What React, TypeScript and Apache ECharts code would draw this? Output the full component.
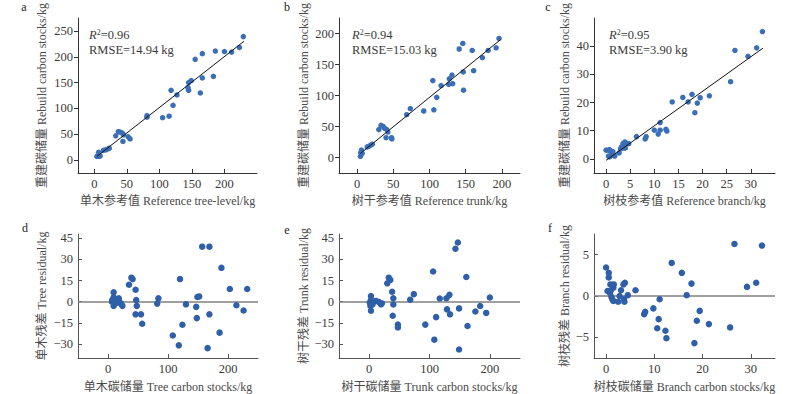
import React, { useEffect, useRef } from "react";
import * as echarts from "echarts";

// ---- Data ----
const treeRef = [4, 6.6, 7.6, 9, 14, 18, 22, 23, 33, 37, 40, 43, 44, 45, 52, 55, 81, 81, 105, 115, 118, 121, 127, 144, 145, 145, 149, 155, 163, 166, 166, 183, 186, 200, 211, 223, 229];
const treeRebuild = [7, 15, 7, 8, 19, 20, 22, 23, 47, 55, 54, 52, 36, 49, 45, 41, 83, 86, 82, 85, 135, 106, 126, 140, 150, 135, 154, 195, 130, 206, 159, 162, 211, 210, 209, 218, 239];
const treeFitX = [4, 230];
const treeFitY = [7, 230];

const trunkRef = [4.6, 5, 6, 7, 14, 16, 19, 21, 30, 33, 36, 38, 40, 41, 42.5, 47.5, 48, 68.5, 73.5, 92, 104.6, 106, 110, 116, 126.5, 127.4, 131, 132, 141, 146, 147, 146.6, 159, 161, 173, 181, 192, 196];
const trunkRebuild = [2, 7.5, 12, 6.5, 17, 18, 20, 21.5, 45, 52, 50, 47, 32, 45, 41, 32, 30, 69, 79, 75, 124, 77, 97, 116, 118, 127, 133, 119, 175, 184, 108.6, 138, 172.6, 140, 161, 172.6, 177, 192];
const trunkFitX = [4.6, 198];
const trunkFitY = [6.5, 190];

const branchRef = [0, 0.4, 0.7, 0.9, 0.5, 0.7, 1, 1.2, 1.4, 1.6, 1.8, 2.7, 3, 3.2, 3.5, 3.7, 3.9, 4, 4.3, 4.7, 6.3, 8.1, 8.3, 10, 10.8, 11.2, 11.2, 12.4, 12.6, 13.7, 15.9, 17, 17.8, 18.4, 18.9, 19.5, 21.4, 25.8, 26.7, 29.4, 31.2, 32.4];
const branchRebuild = [3.1, 3.1, 3.3, 2.9, 1, 0.7, 1.2, 2.1, 2.6, 1.5, 1, 2.1, 3.6, 4.3, 5.4, 3.8, 6, 3.9, 5.5, 5.4, 7.9, 7.1, 7.9, 10.2, 8.8, 10.2, 12.9, 10.5, 9.9, 20.2, 21.8, 20.2, 22.9, 16.4, 19.8, 21.7, 22.4, 27.4, 38.5, 36.4, 39.4, 45.2];
const branchFitX = [0, 32.5];
const branchFitY = [-0.5, 39.3];

const treeStock = [6.6, 7, 9.4, 9.4, 10.5, 9.4, 14, 15, 18, 19, 22, 24, 35, 39, 41, 46, 47, 48, 46, 55, 57, 82, 84, 108, 118, 120, 124, 130, 147, 148, 149, 152, 157, 166, 169, 169, 186, 189, 203, 214, 226, 232];
const treeResidual = [0, 1.2, 6.6, 3, -1.6, -3, 1.6, -0.7, 2.3, 0, -1.6, -3, 12, 17, 16, 8.4, 1.2, -3, -9, -9, -15.7, -1.4, 2.3, -24, -31, 16, -16.4, -1.9, -3.7, -11.7, 3.3, 3.7, 39, -33, 39, -9, -22, 24, 9, -2.6, -6.3, 9];

const trunkStock = [3, 3, 1, 2, 3, 5.6, 11, 15.7, 19.6, 21, 30, 32.5, 35, 38, 40, 40, 39, 47.6, 47.6, 68, 74, 93, 106, 108, 111, 117, 128, 129, 133, 134, 143, 147, 149, 149, 161, 163, 176, 184, 194, 200];
const trunkResidual = [4, 1.2, -0.7, -3, -6.5, -1.9, 0.5, -0.2, -1.9, -1.2, 13, 17, 15.4, 7, 2.4, -2, -10, -16.3, -18.3, 1.4, 5.3, -16.3, 21.4, -27, -11, 2.2, 2.4, -5.5, 4.8, -9, 37.5, 42, -4.8, -34, 17.5, -17.3, -7, -3.1, -8, 2.9];

const branchStock = [0, 0.56, 0.56, 0.3, 0.9, 1.3, 1.5, 1.6, 1, 0.8, 1.1, 1.3, 1.5, 2.5, 2.8, 3.1, 3.6, 3.9, 3.7, 3.8, 4.5, 6.1, 7.9, 8.1, 9.8, 10.6, 10.9, 11.1, 12.3, 12.5, 13.6, 15.7, 16.7, 17.7, 18.3, 18.8, 19.4, 21.3, 25.7, 26.6, 29.2, 31.1, 32.3];
const branchResidual = [3.45, 2.8, 2.25, 0.6, 1.4, 1.3, 1, 1.4, 0.7, 0.4, -0.1, -0.4, -0.6, -0.7, 0, 0.7, 1.4, 1.6, -0.4, -0.7, 0.1, 0.7, -2.2, -1.9, -1.5, -3.9, -2.8, -0.4, -4.2, -5.1, 4, 2.8, 0.1, 1.5, -5.7, -3, -1.8, -3.4, -3.8, 6.3, 1.1, 1.6, 6.1];

// tick labels
const treeTicksX = [0, 50, 100, 150, 200];
const treeTicksY = [0, 50, 100, 150, 200, 250];
const trunkTicksX = [0, 50, 100, 150, 200];
const trunkTicksY = [0, 50, 100, 150, 200];
const branchTicksX = [0, 5, 10, 15, 20, 25, 30];
const branchTicksY = [0, 10, 20, 30, 40];
const residTicksX = [0, 100, 200];
const residTicksY = [-30, -15, 0, 15, 30, 45];
const branchResTicksX = [0, 10, 20, 30];
const branchResTicksY = [-5, 0, 5];

const fitStats = [
  { r2: "0.96", rmse: "14.94 kg" },
  { r2: "0.94", rmse: "15.03 kg" },
  { r2: "0.95", rmse: "3.90 kg" },
];
const panelLetters = ["a", "b", "c", "d", "e", "f"];

const FONT = "'Liberation Serif', 'Noto Sans CJK SC', serif";
const TEXT = "#3a3a3a";
const NAME = "#4a4a4a";

const zip = (xs: number[], ys: number[]) => xs.map((x, i) => [x, ys[i]]);
const fmt = (v: number) => (v < 0 ? "\u2212" + Math.abs(v) : String(v));

function makeAxis(
  gi: number,
  min: number,
  max: number,
  ticks: number[],
  name: string,
  nameGap: number,
  tickInside: boolean,
  lineColor: string
) {
  return {
    type: "value",
    gridIndex: gi,
    min,
    max,
    name,
    nameLocation: "middle",
    nameGap,
    nameTextStyle: { color: NAME, fontSize: 12, fontFamily: FONT },
    axisLine: { show: true, onZero: false, lineStyle: { color: lineColor, width: 1 } },
    axisTick: { show: true, inside: tickInside, length: 4, customValues: ticks, lineStyle: { color: lineColor } },
    axisLabel: { customValues: ticks, formatter: fmt, color: TEXT, fontSize: 12.5, fontFamily: FONT, margin: 5 },
    splitLine: { show: false },
  };
}

export default function App() {
  const ref = useRef<HTMLDivElement>(null);
  useEffect(() => {
    if (!ref.current) return;
    const chart = echarts.init(ref.current, null, { renderer: "svg" });

    const grids = [
      { left: 78, top: 18, width: 179, height: 155 },
      { left: 339, top: 18, width: 181, height: 155 },
      { left: 594, top: 18, width: 181, height: 155 },
      { left: 78, top: 234, width: 180, height: 124 },
      { left: 339, top: 234, width: 181, height: 124 },
      { left: 594, top: 234, width: 181, height: 124 },
    ];

    const topLine = "#333333";
    const botLine = "#555555";
    const xAxes = [
      makeAxis(0, -25, 250, treeTicksX, "单木参考值 Reference tree-level/kg", 22, true, topLine),
      makeAxis(1, -25, 225, trunkTicksX, "树干参考值 Reference trunk/kg", 22, true, topLine),
      makeAxis(2, -2.5, 35, branchTicksX, "树枝参考值 Reference branch/kg", 22, true, topLine),
      makeAxis(3, -50, 250, residTicksX, "单木碳储量 Tree carbon stocks/kg", 23, true, botLine),
      makeAxis(4, -50, 250, residTicksX, "树干碳储量 Trunk carbon stocks/kg", 23, true, botLine),
      makeAxis(5, -2.5, 35, branchResTicksX, "树枝碳储量 Branch carbon stocks/kg", 23, true, botLine),
    ];
    const yAxes = [
      makeAxis(0, -25, 275, treeTicksY, "重建碳储量 Rebuild carbon stocks/kg", 30, false, topLine),
      makeAxis(1, -25, 225, trunkTicksY, "重建碳储量 Rebuild carbon stocks/kg", 29, false, topLine),
      makeAxis(2, -5, 50, branchTicksY, "重建碳储量 Rebuild carbon stocks/kg", 23, false, topLine),
      makeAxis(3, -40, 48, residTicksY, "单木残差 Tree residual/kg", 30, true, botLine),
      makeAxis(4, -40, 48, residTicksY, "树干残差 Trunk residual/kg", 29, true, botLine),
      makeAxis(5, -7.5, 7.5, branchResTicksY, "树枝残差 Branch residual/kg", 23, true, botLine),
    ];

    const topColor = "#3a6fb7";
    const botColor = "#2e5fa8";
    const scatter = (i: number, data: number[][], color: string, size: number, zeroLine: boolean) => ({
      type: "scatter",
      xAxisIndex: i,
      yAxisIndex: i,
      data,
      symbolSize: size,
      itemStyle: { color, opacity: 1 },
      z: 3,
      markLine: zeroLine
        ? {
            silent: true,
            symbol: "none",
            label: { show: false },
            lineStyle: { color: "#808080", width: 1.5, type: "solid" },
            data: [{ yAxis: 0 }],
            z: 1,
          }
        : undefined,
    });
    const fitLine = (i: number, data: number[][]) => ({
      type: "line",
      xAxisIndex: i,
      yAxisIndex: i,
      data,
      symbol: "none",
      lineStyle: { color: "#111111", width: 1 },
      z: 4,
    });

    const series = [
      scatter(0, zip(treeRef, treeRebuild), topColor, 5.5, false),
      fitLine(0, zip(treeFitX, treeFitY)),
      scatter(1, zip(trunkRef, trunkRebuild), topColor, 5.5, false),
      fitLine(1, zip(trunkFitX, trunkFitY)),
      scatter(2, zip(branchRef, branchRebuild), topColor, 5.5, false),
      fitLine(2, zip(branchFitX, branchFitY)),
      scatter(3, zip(treeStock, treeResidual), botColor, 6.5, true),
      scatter(4, zip(trunkStock, trunkResidual), botColor, 6.5, true),
      scatter(5, zip(branchStock, branchResidual), botColor, 6.5, true),
    ];

    const statX = [89, 352, 609];
    const graphic: any[] = [];
    fitStats.forEach((s, i) => {
      graphic.push({
        type: "text",
        x: statX[i],
        y: 35,
        style: {
          text: "{i|R}{s|2}{n|=" + s.r2 + "}",
          verticalAlign: "middle",
          fill: TEXT,
          rich: {
            i: { fontStyle: "italic", fontSize: 12.5, fontFamily: FONT, fill: TEXT },
            s: { fontSize: 8, fontFamily: FONT, verticalAlign: "top", fill: TEXT, padding: [0, 0, 5, 0] },
            n: { fontSize: 12.5, fontFamily: FONT, fill: TEXT },
          },
        },
      });
      graphic.push({
        type: "text",
        x: statX[i],
        y: 50,
        style: {
          text: "RMSE=" + s.rmse,
          verticalAlign: "middle",
          fill: TEXT,
          font: "12.5px " + FONT,
        },
      });
    });
    const letterPos = [
      [24, 7],
      [287, 7],
      [548, 7],
      [25, 228],
      [287, 230],
      [550, 228],
    ];
    panelLetters.forEach((l, i) => {
      graphic.push({
        type: "text",
        x: letterPos[i][0],
        y: letterPos[i][1],
        style: { text: l, align: "center", verticalAlign: "middle", fill: "#222", font: "12px " + FONT },
      });
    });

    chart.setOption({
      animation: false,
      backgroundColor: "#ffffff",
      grid: grids,
      xAxis: xAxes,
      yAxis: yAxes,
      series,
      graphic,
    });
    return () => chart.dispose();
  }, []);

  return (
    <div
      ref={ref}
      style={{ position: "absolute", left: 0, top: 0, width: 800, height: 394 }}
    />
  );
}
